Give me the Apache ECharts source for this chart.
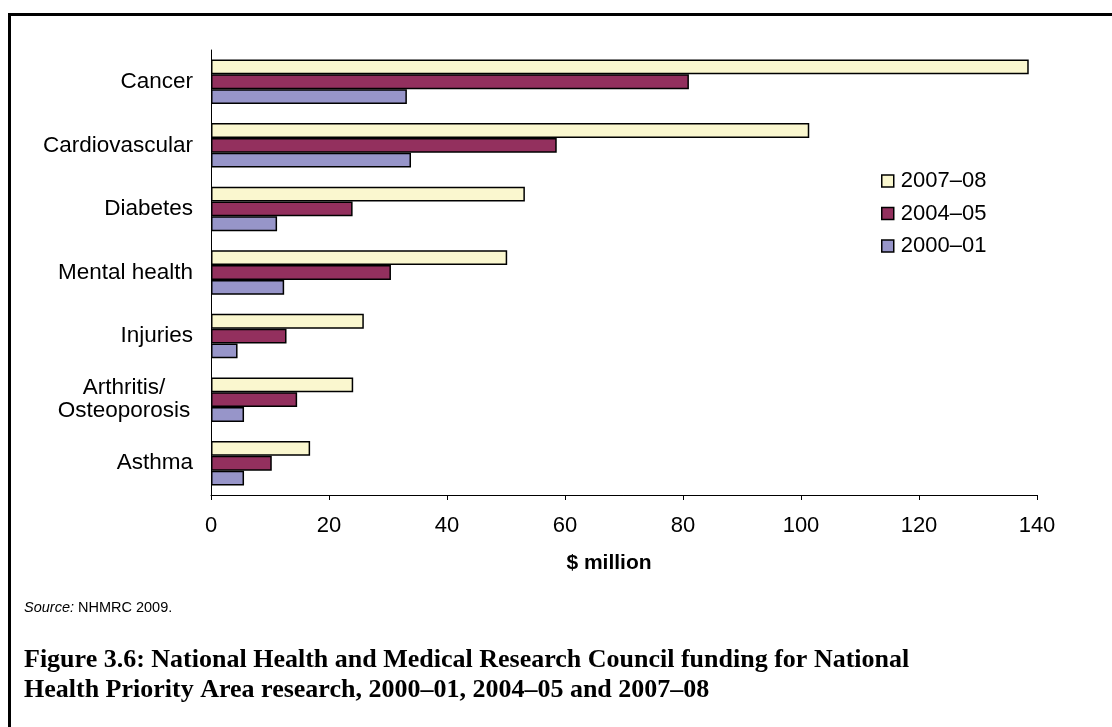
<!DOCTYPE html>
<html>
<head>
<meta charset="utf-8">
<script src="https://cdn.jsdelivr.net/npm/echarts@6/dist/echarts.min.js"></script>
<style>
  html, body { margin: 0; padding: 0; background: #fff; }
  #chart { width: 1112px; height: 727px; }
</style>
</head>
<body>
<div id="chart"></div>
<script>
// areas, top to bottom
var categories = ['Cancer', 'Cardiovascular', 'Diabetes', 'Mental health', 'Injuries', 'Arthritis/\nOsteoporosis', 'Asthma'];
var seriesNames = ['2007–08', '2004–05', '2000–01'];
var values0708 = [138.6, 101.4, 53.2, 50.2, 25.9, 24.1, 16.8];
var values0405 = [81.0, 58.6, 24.0, 30.5, 12.8, 14.6, 10.3];
var values0001 = [33.2, 33.9, 11.2, 12.4, 4.5, 5.6, 5.6];
var xTicks = [0, 20, 40, 60, 80, 100, 120, 140];

var colors = ['#faf7cf', '#93305e', '#9795c9'];
var fontSans = 'Liberation Sans, Arial, sans-serif';

var myChart = echarts.init(document.getElementById('chart'));

function makeBar(name, data, idx) {
    return {
        name: name,
        type: 'bar',
        barGap: '0%',
        barCategoryGap: '30%',
        itemStyle: {
            color: colors[idx],
            borderColor: '#000',
            borderWidth: 1.5
        },
        data: data
    };
}

var option = {
    animation: false,
    grid: {
        left: 211,
        right: 75,
        top: 50,
        bottom: 232
    },
    legend: {
        orient: 'vertical',
        left: 876,
        top: 165,
        itemWidth: 12,
        itemHeight: 12,
        itemGap: 10.5,
        icon: 'rect',
        itemStyle: { borderColor: '#000', borderWidth: 1.5 },
        textStyle: { fontFamily: fontSans, fontSize: 22, color: '#000', padding: [0, 0, 0, 2] },
        data: seriesNames
    },
    xAxis: {
        type: 'value',
        min: 0,
        max: 140,
        interval: 20,
        splitLine: { show: false },
        axisLine: { show: true, lineStyle: { color: '#000', width: 1 } },
        axisTick: { show: true, length: 5, lineStyle: { color: '#000' } },
        axisLabel: {
            margin: 20,
            fontFamily: fontSans,
            fontSize: 22,
            color: '#000',
            formatter: function (v) { return xTicks.indexOf(v) >= 0 ? String(v) : ''; }
        },
        name: '$ million',
        nameLocation: 'middle',
        nameGap: 58,
        nameTextStyle: {
            fontFamily: fontSans,
            fontSize: 21,
            fontWeight: 'bold',
            color: '#000',
            padding: [0, 30, 0, 0]
        }
    },
    yAxis: {
        type: 'category',
        inverse: true,
        data: categories,
        axisLine: { show: true, lineStyle: { color: '#000', width: 1 } },
        axisTick: { show: false },
        axisLabel: {
            margin: 18,
            fontFamily: fontSans,
            fontSize: 22.5,
            color: '#000',
            lineHeight: 23,
            formatter: function (v) {
                if (v.indexOf('\n') >= 0) {
                    return v.split('\n').map(function (s) { return '{c|' + s + '}'; }).join('\n');
                }
                return v;
            },
            rich: {
                c: { width: 138, align: 'center', fontFamily: fontSans, fontSize: 22.5, lineHeight: 23, color: '#000' }
            }
        }
    },
    graphic: [
        {
            type: 'polyline',
            shape: { points: [[9.5, 14.5], [1120, 14.5]] },
            style: { stroke: '#000', lineWidth: 3, fill: null }
        },
        {
            type: 'polyline',
            shape: { points: [[9.5, 13], [9.5, 740]] },
            style: { stroke: '#000', lineWidth: 3, fill: null }
        },
        {
            type: 'text',
            left: 24,
            top: 600,
            style: {
                text: '{i|Source:} NHMRC 2009.',
                fontFamily: fontSans,
                fontSize: 14.5,
                fill: '#000',
                rich: { i: { fontStyle: 'italic', fontFamily: fontSans, fontSize: 14.5 } }
            }
        },
        {
            type: 'text',
            left: 24,
            top: 645,
            style: {
                text: 'Figure 3.6: National Health and Medical Research Council funding for National\nHealth Priority Area research, 2000–01, 2004–05 and 2007–08',
                fontFamily: 'Liberation Serif, serif',
                fontWeight: 'bold',
                fontSize: 26,
                lineHeight: 30,
                fill: '#000'
            }
        }
    ],
    series: [
        makeBar(seriesNames[0], values0708, 0),
        makeBar(seriesNames[1], values0405, 1),
        makeBar(seriesNames[2], values0001, 2)
    ]
};

myChart.setOption(option);
</script>
</body>
</html>
